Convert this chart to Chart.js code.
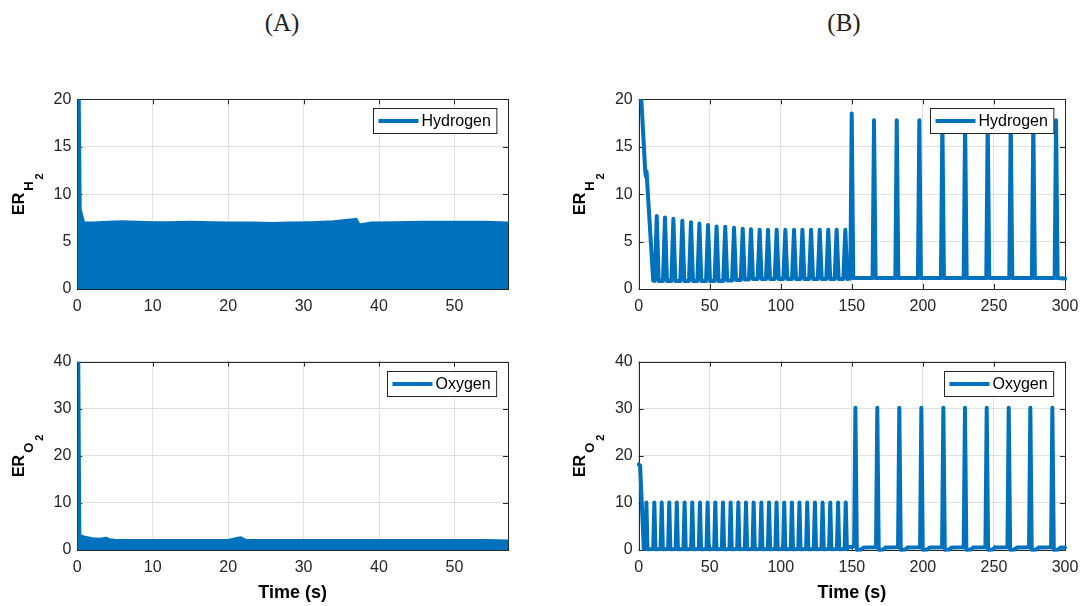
<!DOCTYPE html>
<html>
<head>
<meta charset="utf-8">
<script src="https://cdn.jsdelivr.net/npm/chart.js@4.4.1/dist/chart.umd.min.js"></script>
<style>
  body { margin: 0; background: #fff; width: 1087px; height: 606px; position: relative; overflow: hidden; }
  canvas { position: absolute; }
  .panel-title { position: absolute; top: 10px; line-height: 1; font-family: "Liberation Serif", "DejaVu Serif", serif; font-size: 25px; color: #222; transform: translateX(-50%); }
</style>
</head>
<body>
<div class="panel-title" style="left:282px">(A)</div>
<div class="panel-title" style="left:844px">(B)</div>
<canvas id="h2A" width="540" height="260" style="left:0;top:60px"></canvas>
<canvas id="h2B" width="527" height="260" style="left:560px;top:60px"></canvas>
<canvas id="o2A" width="540" height="286" style="left:0;top:320px"></canvas>
<canvas id="o2B" width="527" height="286" style="left:560px;top:320px"></canvas>
<script>
// Panel (A): the signal oscillates too fast to see, so only its upper envelope is kept (filled to zero)
const timeH2A = [0, 0.3, 0.45, 0.9, 2, 4, 6, 8, 10, 12, 15, 18, 20, 23, 26, 28, 31, 34, 36.5, 37.0, 37.4, 39, 42, 46, 50, 54, 57.1];
const erH2A   = [22, 22, 8.4, 7.0, 7.0, 7.1, 7.15, 7.1, 7.05, 7.05, 7.1, 7.05, 7.0, 7.0, 6.95, 7.0, 7.05, 7.15, 7.35, 7.4, 6.8, 7.0, 7.05, 7.1, 7.1, 7.1, 7.0];

const timeO2A = [0, 0.25, 0.4, 1, 2, 3, 3.8, 4.3, 5, 8, 12, 16, 20, 21.3, 21.7, 22.3, 25, 30, 35, 38, 42, 46, 50, 54, 57.1];
const erO2A   = [42, 42, 3.2, 2.8, 2.5, 2.4, 2.6, 2.3, 2.2, 2.1, 2.1, 2.1, 2.15, 2.6, 2.7, 2.2, 2.1, 2.1, 2.1, 2.15, 2.1, 2.1, 2.1, 2.1, 2.0];

// Panel (B): hydrogen
const timeH2B = [
  0, 4.6, 5.0, 5.5, 10.2,
  11.3, 12.7, 14.1,  17.1, 18.5, 19.9,  23.0, 24.4, 25.8,  29.3, 30.7, 32.1,
  35.4, 36.8, 38.2,  41.3, 42.7, 44.1,  47.4, 48.8, 50.2,  53.4, 54.8, 56.2,
  59.5, 60.9, 62.3,  65.7, 67.1, 68.5,  71.8, 73.2, 74.6,  77.6, 79.0, 80.4,
  83.7, 85.1, 86.5,  89.6, 91.0, 92.4,  95.7, 97.1, 98.5,  101.8, 103.2, 104.6,
  107.9, 109.3, 110.7,  113.8, 115.2, 116.6,  119.9, 121.3, 122.7,  126.0, 127.4, 128.8,
  132.0, 133.4, 134.8,  137.9, 139.3, 140.7,  144.0, 145.4, 146.8,
  148.9, 149.9, 151.0,  164.6, 165.6, 166.7,  180.6, 181.6, 182.7,  196.5, 197.5, 198.6,
  212.7, 213.7, 214.8,  228.7, 229.7, 230.8,  244.6, 245.6, 246.7,  260.8, 261.8, 262.9,
  276.7, 277.7, 278.8,  292.7, 293.7, 294.8,  300
];
const erH2B = [
  25, 12.4, 11.9, 12.4, 0.9,
  0.85, 7.7, 0.85,  0.85, 7.55, 0.85,  0.85, 7.4, 0.85,  0.85, 7.2, 0.85,
  0.85, 7.05, 0.85,  0.85, 6.9, 0.85,  0.85, 6.75, 0.85,  0.85, 6.6, 0.85,
  0.85, 6.55, 0.9,  0.9, 6.45, 0.95,  0.95, 6.35, 1.0,  1.0, 6.3, 1.05,
  1.05, 6.25, 1.05,  1.05, 6.25, 1.05,  1.05, 6.25, 1.05,  1.05, 6.25, 1.05,
  1.05, 6.25, 1.05,  1.05, 6.25, 1.05,  1.05, 6.25, 1.05,  1.05, 6.25, 1.05,
  1.05, 6.25, 1.05,  1.05, 6.25, 1.05,  1.05, 6.25, 1.05,
  1.1, 18.5, 1.15,  1.15, 17.8, 1.15,  1.15, 17.8, 1.15,  1.15, 17.8, 1.15,
  1.15, 17.8, 1.15,  1.15, 17.8, 1.15,  1.15, 17.8, 1.15,  1.15, 17.8, 1.15,
  1.15, 17.8, 1.15,  1.15, 17.8, 1.15,  1.1
];

// Panel (B): oxygen
const timeO2B = [
  0, 1.0, 3.6,
  4.6, 5.4, 6.2,  10.2, 11.0, 11.8,  15.4, 16.2, 17.0,  20.7, 21.5, 22.3,  26.0, 26.8, 27.6,
  31.5, 32.3, 33.1,  36.9, 37.7, 38.5,  42.3, 43.1, 43.9,  47.7, 48.5, 49.3,  53.1, 53.9, 54.7,
  58.5, 59.3, 60.1,  63.9, 64.7, 65.5,  69.3, 70.1, 70.9,  74.7, 75.5, 76.3,  80.1, 80.9, 81.7,
  85.5, 86.3, 87.1,  90.9, 91.7, 92.5,  96.2, 97.0, 97.8,  101.6, 102.4, 103.2,  107.0, 107.8, 108.6,
  112.3, 113.1, 113.9,  117.8, 118.6, 119.4,  123.2, 124.0, 124.8,  128.6, 129.4, 130.2,
  134.0, 134.8, 135.6,  139.5, 140.3, 141.1,  144.9, 145.7, 146.5,
  147.5,
  151.6, 152.5, 153.5, 156.5, 158.5,
  167.0, 167.9, 168.9, 171.9, 173.9,
  182.5, 183.4, 184.4, 187.4, 189.4,
  198.0, 198.9, 199.9, 202.9, 204.9,
  213.5, 214.4, 215.4, 218.4, 220.4,
  228.7, 229.6, 230.6, 233.6, 235.6,
  244.0, 244.9, 245.9, 248.9, 250.9,
  259.5, 260.4, 261.4, 264.4, 266.4,
  274.7, 275.6, 276.6, 279.6, 281.6,
  290.2, 291.1, 292.1, 295.1, 297.1,
  300
];
const erO2B = [
  18.2, 17.9, 0.2,
  0.2, 10.1, 0.15,  0.2, 10.1, 0.15,  0.2, 10.1, 0.15,  0.2, 10.1, 0.15,  0.2, 10.1, 0.15,
  0.2, 10.1, 0.15,  0.2, 10.1, 0.15,  0.2, 10.1, 0.15,  0.2, 10.1, 0.15,  0.2, 10.1, 0.15,
  0.2, 10.1, 0.15,  0.2, 10.1, 0.15,  0.2, 10.1, 0.15,  0.2, 10.1, 0.15,  0.2, 10.1, 0.15,
  0.2, 10.1, 0.15,  0.2, 10.1, 0.15,  0.2, 10.1, 0.15,  0.2, 10.1, 0.15,  0.2, 10.1, 0.15,
  0.2, 10.1, 0.15,  0.2, 10.1, 0.15,  0.2, 10.1, 0.15,  0.2, 10.1, 0.15,
  0.2, 10.1, 0.15,  0.2, 10.1, 0.15,  0.2, 10.1, 0.15,
  0.6,
  0.8, 30.2, 0.05, 0.1, 0.55,
  0.6, 30.2, 0.05, 0.1, 0.55,
  0.6, 30.2, 0.05, 0.1, 0.55,
  0.6, 30.2, 0.05, 0.1, 0.55,
  0.6, 30.2, 0.05, 0.1, 0.55,
  0.6, 30.2, 0.05, 0.1, 0.55,
  0.6, 30.2, 0.05, 0.1, 0.55,
  0.6, 30.2, 0.05, 0.1, 0.55,
  0.6, 30.2, 0.05, 0.1, 0.55,
  0.6, 30.2, 0.05, 0.1, 0.55,
  0.5
];

const BLUE = '#0072bd';
const AXIS = '#262626';
const FONT = '"Liberation Sans", Arial, sans-serif';

// matlab style box with inward ticks, drawn under the data
const axesBox = {
  id: 'axesBox',
  beforeDatasetsDraw(chart) {
    const ctx = chart.ctx, a = chart.chartArea;
    const xs = chart.scales.x, ys = chart.scales.y;
    const t = 5;
    ctx.save();
    ctx.strokeStyle = AXIS;
    ctx.lineWidth = 1;
    ctx.beginPath();
    xs.ticks.forEach(tk => {
      const px = Math.round(xs.getPixelForValue(tk.value)) + 0.5;
      ctx.moveTo(px, a.bottom); ctx.lineTo(px, a.bottom - t);
      ctx.moveTo(px, a.top); ctx.lineTo(px, a.top + t);
    });
    ys.ticks.forEach(tk => {
      const py = Math.round(ys.getPixelForValue(tk.value)) + 0.5;
      ctx.moveTo(a.left, py); ctx.lineTo(a.left + t, py);
      ctx.moveTo(a.right, py); ctx.lineTo(a.right - t, py);
    });
    ctx.stroke();
    ctx.strokeRect(Math.round(a.left) + 0.5, Math.round(a.top) + 0.5, Math.round(a.right - a.left), Math.round(a.bottom - a.top));
    ctx.restore();
  }
};

// legend in a white box, top right of the axes
const boxLegend = {
  id: 'boxLegend',
  afterDatasetsDraw(chart) {
    const ctx = chart.ctx, a = chart.chartArea;
    const label = chart.data.datasets[0].label;
    ctx.save();
    ctx.font = '16px ' + FONT;
    const w = 48 + ctx.measureText(label).width + 6;
    const h = 25;
    const x = Math.round(a.right - 12 - w) + 0.5, y = Math.round(a.top + 9) + 0.5;
    ctx.fillStyle = '#fff';
    ctx.fillRect(x, y, w, h);
    ctx.strokeStyle = AXIS;
    ctx.lineWidth = 1;
    ctx.strokeRect(x, y, w, h);
    ctx.strokeStyle = BLUE;
    ctx.lineWidth = 4;
    ctx.beginPath();
    ctx.moveTo(x + 5, y + h / 2);
    ctx.lineTo(x + 45, y + h / 2);
    ctx.stroke();
    ctx.fillStyle = '#000';
    ctx.textBaseline = 'middle';
    ctx.fillText(label, x + 48, y + h / 2 + 1);
    ctx.restore();
  }
};

// y label ER with a nested subscript (ER_{H_2})
const erLabel = {
  id: 'erLabel',
  afterDraw(chart, args, opts) {
    const ctx = chart.ctx, a = chart.chartArea;
    ctx.save();
    ctx.translate(a.left - 53.5, (a.top + a.bottom) / 2);
    ctx.rotate(-Math.PI / 2);
    ctx.fillStyle = '#000';
    ctx.textBaseline = 'alphabetic';
    ctx.font = 'bold 16px ' + FONT;
    const w1 = ctx.measureText('ER').width;
    ctx.font = 'bold 13px ' + FONT;
    const w2 = ctx.measureText(opts.sub).width;
    ctx.font = 'bold 11px ' + FONT;
    const w3 = ctx.measureText('2').width;
    let x = -(w1 + 2 + w2 + 2 + w3) / 2;
    ctx.font = 'bold 16px ' + FONT;
    ctx.fillText('ER', x, 0);
    x += w1 + 2;
    ctx.font = 'bold 13px ' + FONT;
    ctx.fillText(opts.sub, x, 9);
    x += w2 + 2;
    ctx.font = 'bold 11px ' + FONT;
    ctx.fillText('2', x, 19);
    ctx.restore();
  }
};

function makePanel(id, cfg) {
  const points = cfg.time.map((t, i) => ({ x: t, y: cfg.values[i] }));
  return new Chart(document.getElementById(id), {
    type: 'line',
    data: {
      datasets: [{
        label: cfg.label,
        data: points,
        borderColor: BLUE,
        backgroundColor: BLUE,
        borderWidth: cfg.fill ? 2 : 4,
        fill: cfg.fill ? 'origin' : false,
        pointRadius: 0,
        tension: 0,
        borderJoinStyle: 'round',
        borderCapStyle: 'round',
        clip: { left: 2, top: 0, right: 2, bottom: 2 }
      }]
    },
    options: {
      responsive: false,
      animation: false,
      events: [],
      layout: { padding: { top: cfg.padTop, right: cfg.padRight, left: 0, bottom: 0 } },
      scales: {
        x: {
          type: 'linear',
          min: 0,
          max: cfg.xMax,
          afterFit: s => { s.height = cfg.xHeight; },
          ticks: { stepSize: cfg.xStep, includeBounds: false, autoSkip: false, maxRotation: 0, padding: 8,
                   color: AXIS, font: { family: FONT, size: 16 } },
          grid: { color: '#e2e2e2', drawTicks: false },
          border: { display: false },
          title: {
            display: cfg.xTitle,
            text: 'Time (s)',
            color: '#000',
            font: { family: FONT, size: 18, weight: 'bold' },
            padding: { top: 0, bottom: 2 }
          }
        },
        y: {
          min: 0,
          max: cfg.yMax,
          afterFit: s => { s.width = cfg.yWidth; },
          ticks: { stepSize: cfg.yStep, padding: 6, color: AXIS, font: { family: FONT, size: 16 } },
          grid: { color: '#e2e2e2', drawTicks: false },
          border: { display: false }
        }
      },
      plugins: {
        legend: { display: false },
        tooltip: { enabled: false },
        erLabel: { sub: cfg.sub }
      }
    },
    plugins: [axesBox, boxLegend, erLabel]
  });
}

makePanel('h2A', { label: 'Hydrogen', sub: 'H', time: timeH2A, values: erH2A, fill: true,
  xMax: 57.1, xStep: 10, yMax: 20, yStep: 5, padTop: 39.3, padRight: 32, xHeight: 31, yWidth: 77.3, xTitle: false });
makePanel('h2B', { label: 'Hydrogen', sub: 'H', time: timeH2B, values: erH2B, fill: false,
  xMax: 300, xStep: 50, yMax: 20, yStep: 5, padTop: 39.3, padRight: 22, xHeight: 31, yWidth: 78.7, xTitle: false });
makePanel('o2A', { label: 'Oxygen', sub: 'O', time: timeO2A, values: erO2A, fill: true,
  xMax: 57.1, xStep: 10, yMax: 40, yStep: 10, padTop: 41.7, padRight: 32, xHeight: 56, yWidth: 77.3, xTitle: true });
makePanel('o2B', { label: 'Oxygen', sub: 'O', time: timeO2B, values: erO2B, fill: false,
  xMax: 300, xStep: 50, yMax: 40, yStep: 10, padTop: 41.7, padRight: 22, xHeight: 56, yWidth: 78.7, xTitle: true });
</script>
</body>
</html>
